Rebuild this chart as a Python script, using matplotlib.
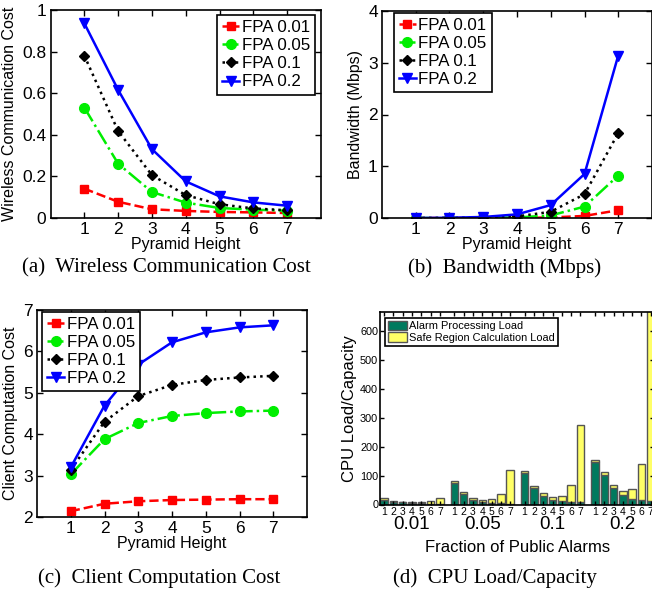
import matplotlib
matplotlib.use("Agg")
import matplotlib.pyplot as plt
from matplotlib.transforms import blended_transform_factory
import numpy as np

plt.rcParams['font.family'] = ['Liberation Sans', 'DejaVu Sans']

# ---------------- data ----------------
heights = [1, 2, 3, 4, 5, 6, 7]
series_labels = ['FPA 0.01', 'FPA 0.05', 'FPA 0.1', 'FPA 0.2']

wireless_001 = [0.141, 0.078, 0.042, 0.034, 0.029, 0.027, 0.024]
wireless_005 = [0.531, 0.261, 0.125, 0.074, 0.048, 0.040, 0.035]
wireless_01 = [0.781, 0.418, 0.206, 0.110, 0.066, 0.046, 0.037]
wireless_02 = [0.936, 0.616, 0.331, 0.176, 0.104, 0.075, 0.059]

bw_001 = [0.0, 0.0, 0.0, 0.0, 0.01, 0.04, 0.15]
bw_005 = [0.0, 0.0, 0.005, 0.01, 0.05, 0.22, 0.82]
bw_01 = [0.0, 0.0, 0.01, 0.03, 0.12, 0.46, 1.64]
bw_02 = [0.0, 0.005, 0.02, 0.07, 0.25, 0.85, 3.14]

client_001 = [2.14, 2.32, 2.38, 2.41, 2.42, 2.43, 2.43]
client_005 = [3.03, 3.88, 4.27, 4.44, 4.51, 4.55, 4.57]
client_01 = [3.14, 4.30, 4.92, 5.19, 5.31, 5.37, 5.41]
client_02 = [3.20, 4.69, 5.68, 6.22, 6.46, 6.58, 6.63]

fpa_groups = ['0.01', '0.05', '0.1', '0.2']
bar_labels = ['1', '2', '3', '4', '5', '6', '7']
alarm_load = [
    [15, 10, 7, 5, 4, 3, 2],
    [74, 36, 15, 9, 6, 4, 3],
    [108, 58, 30, 17, 11, 8, 7],
    [147, 103, 58, 33, 19, 14, 12],
]
total_load = [
    [21, 13, 10, 8, 9, 12, 24],
    [81, 43, 21, 17, 18, 36, 120],
    [115, 65, 38, 26, 30, 66, 276],
    [155, 111, 68, 46, 54, 140, 1000],
]

# ---------------- figure ----------------
W, H = 652, 595
fig = plt.figure(figsize=(W / 100, H / 100), dpi=100)


def rect(left, top, right, bottom):
    return [left / W, 1 - bottom / H, (right - left) / W, (bottom - top) / H]


styles = [
    dict(color='#ff0000', ls='--', marker='s', ms=6),
    dict(color='#00ee00', ls='-.', marker='o', ms=7),
    dict(color='black', ls=':', marker='D', ms=5.5),
    dict(color='#0000ff', ls='-', marker='v', ms=7.5),
]


def style_axes(ax):
    ax.tick_params(direction='in', top=True, right=True, labelsize=12.5,
                   length=4, width=1, pad=3)
    for s in ax.spines.values():
        s.set_linewidth(1.2)


def line_panel(ax, ys, ylim, yticks, ylabel, anchor, loc):
    for y, st, lab in zip(ys, styles, series_labels):
        ax.plot(heights, y, lw=1.8, color=st['color'], ls=st['ls'],
                marker=st['marker'], ms=st['ms'], mfc=st['color'],
                mec=st['color'], label=lab)
    ax.set_xlim(0, 8)
    ax.set_ylim(*ylim)
    ax.set_xticks(heights)
    ax.set_yticks(yticks)
    ax.set_yticklabels([('%g' % t) for t in yticks])
    ax.set_xlabel('Pyramid Height', fontsize=11.5, labelpad=0)
    ax.set_ylabel(ylabel, fontsize=11.5, labelpad=4)
    style_axes(ax)
    leg = ax.legend(loc=loc, bbox_to_anchor=anchor, borderaxespad=0,
                    fontsize=12.2, numpoints=1, handlelength=1.0,
                    handletextpad=0.15, labelspacing=0.18, borderpad=0.3,
                    fancybox=False, framealpha=1, edgecolor='black')
    leg.get_frame().set_linewidth(1.2)


# (a)
axa = fig.add_axes(rect(50.5, 10, 321, 218))
line_panel(axa, [wireless_001, wireless_005, wireless_01, wireless_02],
           (0, 1), [0, 0.2, 0.4, 0.6, 0.8, 1], 'Wireless Communication Cost',
           (0.978, 0.975), 'upper right')

# (b)
axb = fig.add_axes(rect(382, 11, 652, 218))
line_panel(axb, [bw_001, bw_005, bw_01, bw_02],
           (0, 4), [0, 1, 2, 3, 4], 'Bandwidth (Mbps)',
           (0.044, 0.99), 'upper left')

# (c)
axc = fig.add_axes(rect(37, 310, 307, 517))
line_panel(axc, [client_001, client_005, client_01, client_02],
           (2, 7), [2, 3, 4, 5, 6, 7], 'Client Computation Cost',
           (0.019, 0.99), 'upper left')

# (d)
group_step = 7.56
x_pos = []
for g in range(len(fpa_groups)):
    x_pos.append([g * group_step + i + 1 for i in range(len(bar_labels))])
x_all = np.array(x_pos).ravel()
alarm_all = np.array(alarm_load).ravel()
safe_all = np.array(total_load).ravel() - alarm_all

xl0 = 0.6
xl1 = x_all[-1] + 0.4
left_px = 380.3
right_px = left_px + (xl1 - xl0) * 9.3
axd = fig.add_axes(rect(left_px, 312, right_px, 504.5))
axd.bar(x_all, alarm_all, width=0.8, color='#007a5e', edgecolor='#555555',
        linewidth=1.0, label='Alarm Processing Load')
axd.bar(x_all, safe_all, width=0.8, bottom=alarm_all, color='#ffff66',
        edgecolor='#555555', linewidth=1.0,
        label='Safe Region Calculation Load')
axd.set_xlim(xl0, xl1)
axd.set_ylim(0, 665)
axd.set_yticks([0, 100, 200, 300, 400, 500, 600])
axd.set_xticks(x_all)
axd.set_xticklabels(bar_labels * len(fpa_groups))
axd.tick_params(direction='in', top=True, right=True, length=3, width=1,
                pad=1.5)
axd.tick_params(axis='x', labelsize=7.5)
axd.tick_params(axis='y', labelsize=7.8)
for s in axd.spines.values():
    s.set_linewidth(1.2)
trans = blended_transform_factory(axd.transData, axd.transAxes)
for g, name in enumerate(fpa_groups):
    axd.text(np.mean(x_pos[g]), -0.058, name, transform=trans,
             ha='center', va='top', fontsize=13.5)
axd.set_xlabel('Fraction of Public Alarms', fontsize=12, labelpad=17)
axd.set_ylabel('CPU Load/Capacity', fontsize=12, labelpad=2)
legd = axd.legend(loc='upper left', bbox_to_anchor=(0.017, 0.97),
                  borderaxespad=0, fontsize=7.9, handlelength=1.8,
                  handleheight=1.0, handletextpad=0.15, labelspacing=0.1,
                  borderpad=0.25, fancybox=False, framealpha=1,
                  edgecolor='black')
legd.get_frame().set_linewidth(1.2)

# captions
cap_font = dict(family=['Liberation Serif', 'DejaVu Serif'], fontsize=15,
                ha='center', va='center')
fig.text(166 / W, 1 - 268 / H, '(a)  Wireless Communication Cost', **cap_font)
fig.text(505 / W, 1 - 268 / H, '(b)  Bandwidth (Mbps)', **cap_font)
fig.text(159 / W, 1 - 578 / H, '(c)  Client Computation Cost', **cap_font)
fig.text(495 / W, 1 - 578 / H, '(d)  CPU Load/Capacity', **cap_font)

fig.savefig('out.png', dpi=100)
